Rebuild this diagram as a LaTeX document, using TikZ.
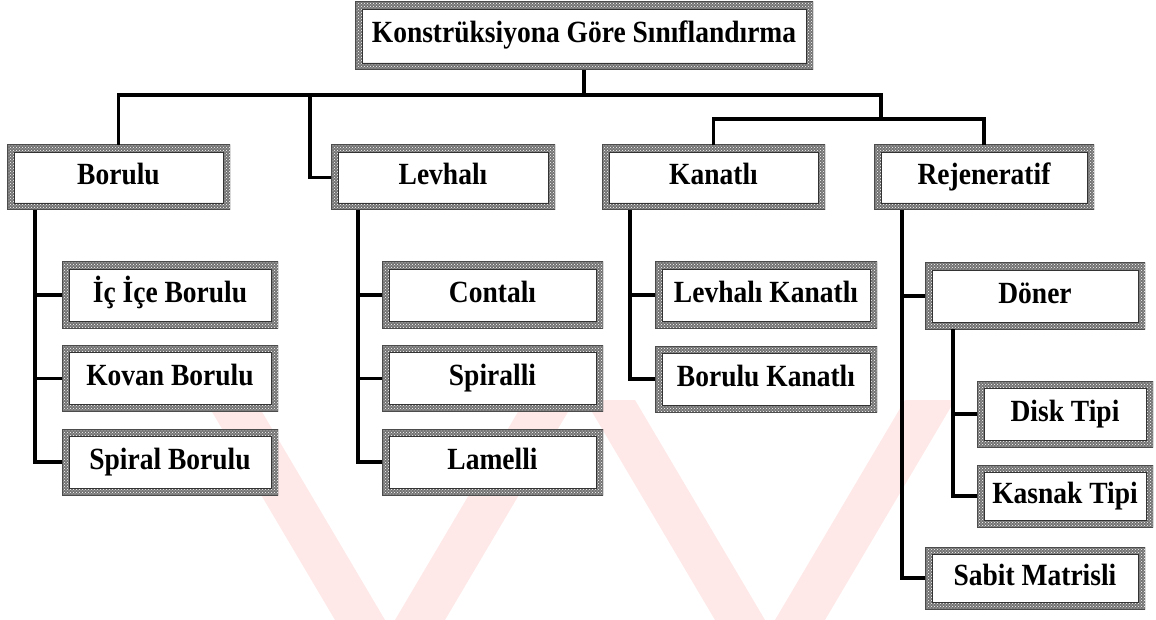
\documentclass[tikz,border=0pt]{standalone}
\usepackage{fontspec}
\setmainfont{Liberation Serif}
\usetikzlibrary{patterns}
\newcommand{\boxtxt}[1]{\scalebox{1}[1.12]{#1}}
\tikzset{
  box/.style={minimum width=#1, minimum height=66pt, inner sep=0pt,
    text height=20pt, text depth=6pt,
    font=\fontsize{27.5}{31}\selectfont\bfseries, fill=white,
    path picture={
      \fill[black!55, even odd rule]
        (path picture bounding box.south west) rectangle (path picture bounding box.north east)
        ([shift={(7pt,7pt)}]path picture bounding box.south west) rectangle ([shift={(-7pt,-7pt)}]path picture bounding box.north east);
      \fill[pattern=crosshatch dots, pattern color=white, even odd rule]
        (path picture bounding box.south west) rectangle (path picture bounding box.north east)
        ([shift={(7pt,7pt)}]path picture bounding box.south west) rectangle ([shift={(-7pt,-7pt)}]path picture bounding box.north east);
      \draw[black!80, line width=0.8pt]
        ([shift={(7pt,7pt)}]path picture bounding box.south west) rectangle ([shift={(-7pt,-7pt)}]path picture bounding box.north east);
      \draw[black!70, line width=1pt]
        (path picture bounding box.south west) rectangle (path picture bounding box.north east);
    }},
  conn/.style={line width=3.2pt, black},
  wm/.style={fill=red!9}
}
\begin{document}
\begin{tikzpicture}[x=1pt, y=-1pt]
\useasboundingbox (0,0) rectangle (1156,620);
% faint watermark bands
\fill[wm] (205,400) -- (255,400) -- (385,620) -- (335,620) -- cycle;
\fill[wm] (395,620) -- (445,620) -- (575,400) -- (525,400) -- cycle;
\fill[wm] (585,400) -- (635,400) -- (765,620) -- (715,620) -- cycle;
\fill[wm] (775,620) -- (825,620) -- (955,400) -- (905,400) -- cycle;
% top
\node[box=458pt, minimum height=68pt] (top) at (584,36) {\boxtxt{Konstrüksiyona Göre Sınıflandırma}};
% level 2
\node[box=223pt, minimum height=65pt] (bor) at (118.5,177.5) {\boxtxt{Borulu}};
\node[box=224pt, minimum height=65pt] (lev) at (443,177.5) {\boxtxt{Levhalı}};
\node[box=223pt, minimum height=65pt] (kan) at (713.5,177.5) {\boxtxt{Kanatlı}};
\node[box=220pt, minimum height=65pt] (rej) at (984,177.5) {\boxtxt{Rejeneratif}};
% Borulu children
\node[box=216pt] (b1) at (170,295) {\boxtxt{İç İçe Borulu}};
\node[box=216pt] (b2) at (170,378.5) {\boxtxt{Kovan Borulu}};
\node[box=216pt] (b3) at (170,462) {\boxtxt{Spiral Borulu}};
% Levhali children
\node[box=221pt] (l1) at (492.5,295) {\boxtxt{Contalı}};
\node[box=221pt] (l2) at (492.5,378.5) {\boxtxt{Spiralli}};
\node[box=221pt] (l3) at (492.5,462) {\boxtxt{Lamelli}};
% Kanatli children
\node[box=222pt] (k1) at (766,295) {\boxtxt{Levhalı Kanatlı}};
\node[box=222pt] (k2) at (766,379) {\boxtxt{Borulu Kanatlı}};
% Rejeneratif children
\node[box=220pt] (r1) at (1035,296) {\boxtxt{Döner}};
\node[box=176pt, minimum height=66pt] (d1) at (1065,414) {\boxtxt{Disk Tipi}};
\node[box=176pt, minimum height=62pt] (d2) at (1065,496) {\boxtxt{Kasnak Tipi}};
\node[box=220pt, minimum height=62pt] (r2) at (1035,578) {\boxtxt{Sabit Matrisli}};
% junction coordinates
\coordinate (bus) at (584,95);
\coordinate (jr) at (881,119);
\coordinate (lvj) at (310,95);
\coordinate (bx) at (35,0);
\coordinate (lx) at (358,0);
\coordinate (kx) at (630,0);
\coordinate (rx) at (902,0);
\coordinate (dx) at (953,0);
% connectors level 1
\draw[conn] (top.south) -- (bus);
\draw[conn] (bor.north) |- (bus) -| (jr);
\draw[conn] (lev.west) -| (lvj);
\draw[conn] (kan.north) |- (jr) -| (rej.north);
% Borulu
\draw[conn] (bor.south -| bx) |- (b3.west);
\draw[conn] (b1.west -| bx) -- (b1.west);
\draw[conn] (b2.west -| bx) -- (b2.west);
% Levhali
\draw[conn] (lev.south -| lx) |- (l3.west);
\draw[conn] (l1.west -| lx) -- (l1.west);
\draw[conn] (l2.west -| lx) -- (l2.west);
% Kanatli
\draw[conn] (kan.south -| kx) |- (k2.west);
\draw[conn] (k1.west -| kx) -- (k1.west);
% Rejeneratif
\draw[conn] (rej.south -| rx) |- (r2.west);
\draw[conn] (r1.west -| rx) -- (r1.west);
% Doner
\draw[conn] (r1.south -| dx) |- (d2.west);
\draw[conn] (d1.west -| dx) -- (d1.west);
\end{tikzpicture}
\end{document}
